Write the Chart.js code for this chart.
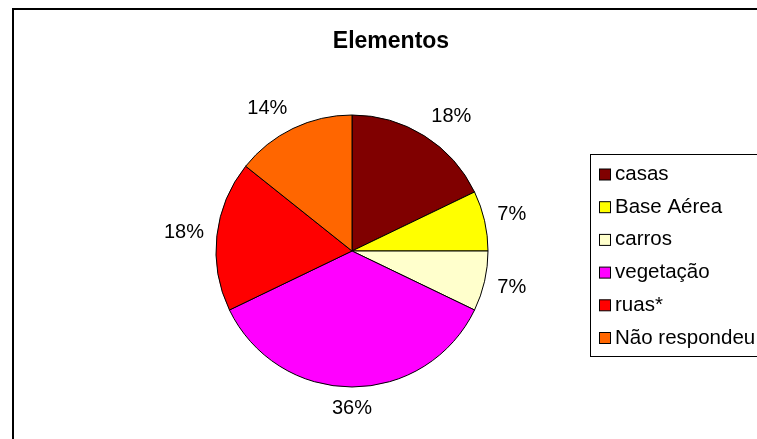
<!DOCTYPE html>
<html>
<head>
<meta charset="utf-8">
<script src="https://cdn.jsdelivr.net/npm/chart.js@4/dist/chart.umd.min.js"></script>
<style>
  body { margin: 0; background: #fff; }
</style>
</head>
<body>
<canvas id="chart" width="757" height="439"></canvas>
<script>
// chart data
const title = 'Elementos';
const categories = ['casas', 'Base Aérea', 'carros', 'vegetação', 'ruas*', 'Não respondeu'];
const counts = [5, 2, 2, 10, 5, 4];
const colors = ['#800000', '#FFFF00', '#FFFFCC', '#FF00FF', '#FF0000', '#FF6600'];

const FONT = '"Liberation Sans", Arial, sans-serif';

const clamp = (v) => Math.max(-1, Math.min(1, v));

// frame, title, percentage labels and legend box
const decorations = {
  id: 'decorations',
  afterDraw(chart) {
    const ctx = chart.ctx;
    const meta = chart.getDatasetMeta(0);
    const values = chart.data.datasets[0].data;
    const total = values.reduce((a, b) => a + b, 0);

    ctx.save();

    // outer frame
    ctx.strokeStyle = '#000';
    ctx.lineWidth = 2;
    ctx.strokeRect(13, 9, 800, 500);

    // title
    ctx.fillStyle = '#000';
    ctx.font = 'bold 23px ' + FONT;
    ctx.textAlign = 'center';
    ctx.textBaseline = 'alphabetic';
    ctx.fillText(title, 391, 48);

    // percentage labels outside the slices, box corner sits just off the rim
    ctx.font = '20px ' + FONT;
    ctx.textBaseline = 'middle';
    meta.data.forEach((arc, i) => {
      const p = arc.getProps(['x', 'y', 'startAngle', 'endAngle', 'outerRadius'], true);
      const mid = (p.startAngle + p.endAngle) / 2;
      const dx = Math.cos(mid), dy = Math.sin(mid);
      const text = Math.round(values[i] / total * 100) + '%';
      const hw = ctx.measureText(text).width / 2;
      const hh = 8;
      const rr = p.outerRadius + 13;
      const tx = p.x + dx * rr + hw * clamp(dx / 0.3);
      const ty = p.y + dy * rr + hh * clamp(dy / 0.5);
      ctx.fillText(text, tx, ty);
    });

    // legend
    const lx = 590.5, ly = 154.5;
    ctx.lineWidth = 1;
    ctx.strokeStyle = '#000';
    ctx.strokeRect(lx, ly, 300, 202);
    ctx.font = '20.5px ' + FONT;
    ctx.textAlign = 'left';
    ctx.textBaseline = 'alphabetic';
    chart.data.labels.forEach((label, i) => {
      const base = 180 + i * 32.7;
      ctx.fillStyle = chart.data.datasets[0].backgroundColor[i];
      ctx.fillRect(599.5, base - 11, 11, 11);
      ctx.strokeRect(599.5, base - 11, 11, 11);
      ctx.fillStyle = '#000';
      ctx.fillText(label, 615, base);
    });

    ctx.restore();
  }
};

new Chart(document.getElementById('chart'), {
  type: 'pie',
  data: {
    labels: categories,
    datasets: [{
      data: counts,
      backgroundColor: colors,
      borderColor: '#000',
      borderWidth: 1,
      borderJoinStyle: 'miter'
    }]
  },
  options: {
    responsive: false,
    animation: false,
    radius: 136,
    layout: {
      padding: { left: 200, right: 253, top: 100, bottom: 37 }
    },
    plugins: {
      legend: { display: false },
      title: { display: false },
      tooltip: { enabled: false }
    }
  },
  plugins: [decorations]
});
</script>
</body>
</html>
